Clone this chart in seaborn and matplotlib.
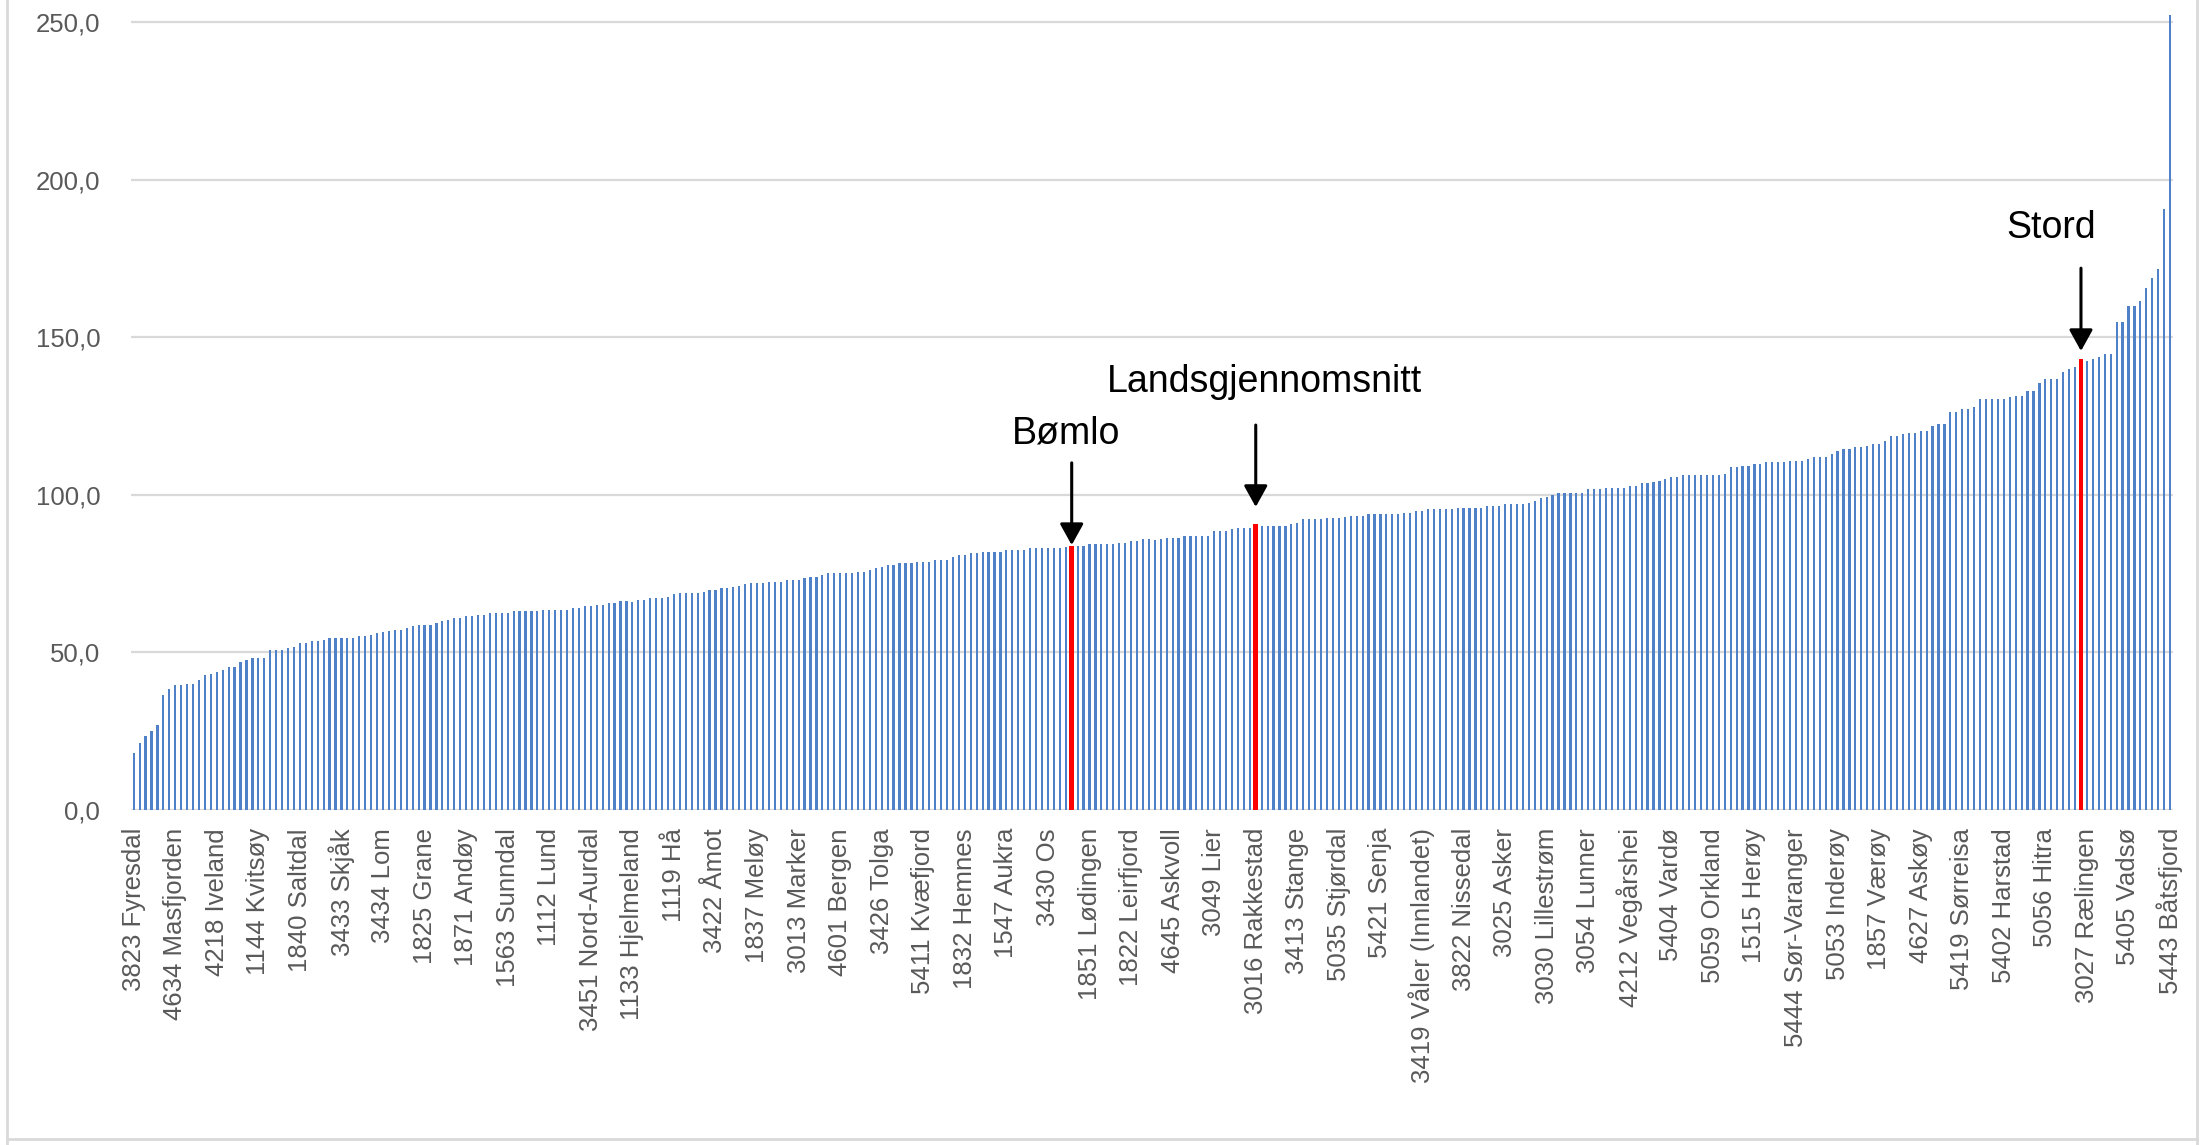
import numpy as np
import pandas as pd
import matplotlib
matplotlib.use('Agg')
import matplotlib.pyplot as plt
from matplotlib.ticker import FuncFormatter
from matplotlib.lines import Line2D
import seaborn as sns

# values per municipality, sorted ascending
values = [
    18.1, 21.3, 23.4, 25.0, 27.1, 36.4, 38.5, 39.6, 39.6, 40.1,
    40.1, 41.2, 42.8, 43.3, 43.8, 44.4, 45.4, 45.4, 47.0, 47.6,
    48.1, 48.2, 48.2, 50.9, 50.9, 50.9, 51.4, 51.9, 53.0, 53.0,
    53.5, 53.5, 54.0, 54.6, 54.6, 54.6, 54.6, 54.6, 55.1, 55.1,
    55.6, 56.2, 56.4, 56.7, 57.2, 57.2, 57.8, 58.3, 58.8, 58.8,
    58.8, 59.4, 59.9, 60.4, 61.0, 61.0, 61.5, 61.5, 62.0, 62.0,
    62.6, 62.6, 62.6, 62.6, 63.1, 63.1, 63.1, 63.1, 63.1, 63.6,
    63.6, 63.6, 63.6, 63.6, 64.1, 64.1, 64.7, 64.7, 65.2, 65.2,
    65.7, 65.7, 66.3, 66.3,
    66.1, 66.7, 66.7, 67.2, 67.2, 67.2, 67.7, 68.5, 68.8, 68.8,
    68.8, 68.8, 69.3, 69.8, 69.8, 70.4, 70.4, 70.9, 71.1, 71.6,
    72.0, 72.0, 72.2, 72.5, 72.5, 72.5, 73.0, 73.0, 73.0, 73.5,
    74.1, 74.1, 74.6, 75.1, 75.1, 75.1, 75.1, 75.1, 75.7, 75.7,
    76.2, 76.9, 77.2, 77.8, 77.8, 78.3, 78.3, 78.3, 78.8, 78.8,
    78.8, 79.4, 79.4, 79.4, 80.4, 81.0, 81.0, 81.5, 81.7, 82.0,
    82.0, 82.0, 82.0, 82.5, 82.5, 82.5, 82.5, 83.1, 83.1, 83.1,
    83.1, 83.1, 83.1, 83.6, 83.8,
    83.8, 83.8, 84.3, 84.3, 84.3, 84.3, 84.3, 84.9, 84.9, 85.4,
    85.4, 85.9, 85.9,
    85.7, 85.9, 86.5, 86.5, 86.5, 87.0, 87.0, 87.0, 87.0, 87.0,
    88.6, 88.6, 88.6, 89.1, 89.6, 89.6, 89.6, 90.7, 90.3, 90.3,
    90.3, 90.3, 90.3, 90.8, 91.2, 92.3, 92.3, 92.3, 92.3, 92.6,
    92.8, 92.8, 93.1, 93.3, 93.3, 93.3, 93.9, 93.9, 93.9, 93.9,
    93.9, 93.9, 94.4, 94.4, 94.9, 94.9, 95.4, 95.4, 95.4, 95.4,
    95.4, 96.0, 96.0, 96.0, 96.0, 96.0, 96.5, 96.5, 96.5, 97.0,
    97.0, 97.0, 97.0, 97.6, 98.1, 98.9, 99.5, 100.0, 100.5, 100.5,
    100.7, 100.7, 100.7, 101.8, 101.8, 101.8, 102.3, 102.3, 102.3, 102.3,
    102.9, 102.9, 103.7, 103.9, 104.2, 104.4, 105.0,
    105.6, 105.6, 106.2, 106.2, 106.2, 106.2, 106.2, 106.2, 106.2, 106.7,
    108.8, 108.8, 109.3, 109.3, 109.8, 109.8, 110.4, 110.4, 110.4, 110.4,
    110.9, 110.9, 110.9, 111.4, 112.0, 112.0, 112.0, 113.0, 114.1, 114.6,
    114.6, 115.1, 115.1, 115.6, 116.2, 116.2, 117.2, 118.8, 118.8, 119.3,
    119.8, 119.8, 120.4, 120.4, 121.9, 122.5, 122.5, 126.2, 126.2, 127.2,
    127.2, 127.8, 130.4, 130.4, 130.4, 130.4, 130.4, 131.0, 131.5, 131.5,
    133.1, 133.1, 135.7, 136.8, 136.8, 136.8, 138.9, 140.0, 140.5, 143.1,
    142.6, 143.1, 143.7, 144.7, 144.7, 154.8, 154.8, 160.0, 160.0, 161.6,
    165.8, 169.0, 171.6, 190.7, 252.4,
]

# every 7th bar carries a label
tick_labels = [
    '3823 Fyresdal', '4634 Masfjorden', '4218 Iveland', '1144 Kvitsøy',
    '1840 Saltdal', '3433 Skjåk', '3434 Lom', '1825 Grane', '1871 Andøy',
    '1563 Sunndal', '1112 Lund', '3451 Nord-Aurdal', '1133 Hjelmeland',
    '1119 Hå', '3422 Åmot', '1837 Meløy', '3013 Marker', '4601 Bergen',
    '3426 Tolga', '5411 Kvæfjord', '1832 Hemnes', '1547 Aukra', '3430 Os',
    '1851 Lødingen', '1822 Leirfjord', '4645 Askvoll', '3049 Lier',
    '3016 Rakkestad', '3413 Stange', '5035 Stjørdal', '5421 Senja',
    '3419 Våler (Innlandet)', '3822 Nissedal', '3025 Asker',
    '3030 Lillestrøm', '3054 Lunner', '4212 Vegårshei', '5404 Vardø',
    '5059 Orkland', '1515 Herøy', '5444 Sør-Varanger', '5053 Inderøy',
    '1857 Værøy', '4627 Askøy', '5419 Sørreisa', '5402 Harstad',
    '5056 Hitra', '3027 Rælingen', '5405 Vadsø', '5443 Båtsfjord',
]
label_step = 7

# highlighted bars
highlight_names = ['Bømlo', 'Landsgjennomsnitt', 'Stord']
highlight_idx = [158, 189, 328]

blue = '#4F81C9'
red = '#FF0000'

df = pd.DataFrame({'pos': np.arange(len(values)), 'value': values})
df['kind'] = 'kommune'
df.loc[highlight_idx, 'kind'] = 'markert'

sns.set_style('white')
plt.rcParams['font.family'] = ['Liberation Sans', 'DejaVu Sans']

W, H = 2202, 1145
fig = plt.figure(figsize=(W / 100, H / 100), dpi=100)
ax_l, ax_r, ax_b, ax_t = 130.7, 2173.0, 810.0, 14.6
ax = fig.add_axes([ax_l / W, 1 - ax_b / H, (ax_r - ax_l) / W, (ax_b - ax_t) / H])

sns.barplot(data=df, x='pos', y='value', hue='kind',
            palette={'kommune': blue, 'markert': red},
            dodge=False, width=0.37, errorbar=None, legend=False,
            saturation=1, ax=ax)

# red bars are drawn a bit wider
for p in ax.patches:
    fc = p.get_facecolor()
    if fc[0] > 0.9 and fc[2] < 0.1:
        cx = p.get_x() + p.get_width() / 2
        p.set_width(0.8)
        p.set_x(cx - 0.4)
    p.set_linewidth(0)

ax.set_xlim(-0.5, len(values) - 0.5)
ax.set_ylim(0, 252.5)
ax.set_yticks(np.arange(0, 251, 50))
ax.yaxis.set_major_formatter(FuncFormatter(lambda v, _: f'{v:.1f}'.replace('.', ',')))
ax.set_xticks(np.arange(0, len(values), label_step))
ax.set_xticklabels(tick_labels, rotation=90)
ax.tick_params(axis='both', length=0, labelsize=18.5, colors='#595959')
ax.tick_params(axis='x', pad=13)
ax.tick_params(axis='y', pad=22)
ax.set_xlabel('')
ax.set_ylabel('')

ax.yaxis.grid(True, color='#D9D9D9', linewidth=1.6)
ax.xaxis.grid(False)
ax.set_axisbelow(True)
for s in ax.spines.values():
    s.set_visible(False)

# arrows and names
text_dx = [-1.0, 1.4, -5.0]
tip_gap = [0.3, 5.5, 2.6]
shaft_top = [110.2, 122.2, 172.0]
text_y = [116.5, 132.7, 181.6]
for name, i, dx, gap, top, ty in zip(highlight_names, highlight_idx, text_dx,
                                     tip_gap, shaft_top, text_y):
    ax.annotate('', xy=(i, values[i] + gap), xytext=(i, top),
                arrowprops=dict(arrowstyle='-|>,head_length=0.65,head_width=0.36',
                                mutation_scale=20, lw=2.2, color='black',
                                shrinkA=0, shrinkB=0))
    ax.text(i + dx, ty, name, ha='center', va='baseline', fontsize=27,
            color='black')

# light chart-area border
border = '#D9D9D9'
fig.add_artist(Line2D([7 / W, 7 / W], [0, 1], transform=fig.transFigure, color=border, lw=2))
fig.add_artist(Line2D([2197 / W, 2197 / W], [0, 1], transform=fig.transFigure, color=border, lw=2))
fig.add_artist(Line2D([7 / W, 2197 / W], [1 - 1139 / H, 1 - 1139 / H], transform=fig.transFigure, color=border, lw=2))

fig.savefig('out.png', dpi=100)
plt.close(fig)
